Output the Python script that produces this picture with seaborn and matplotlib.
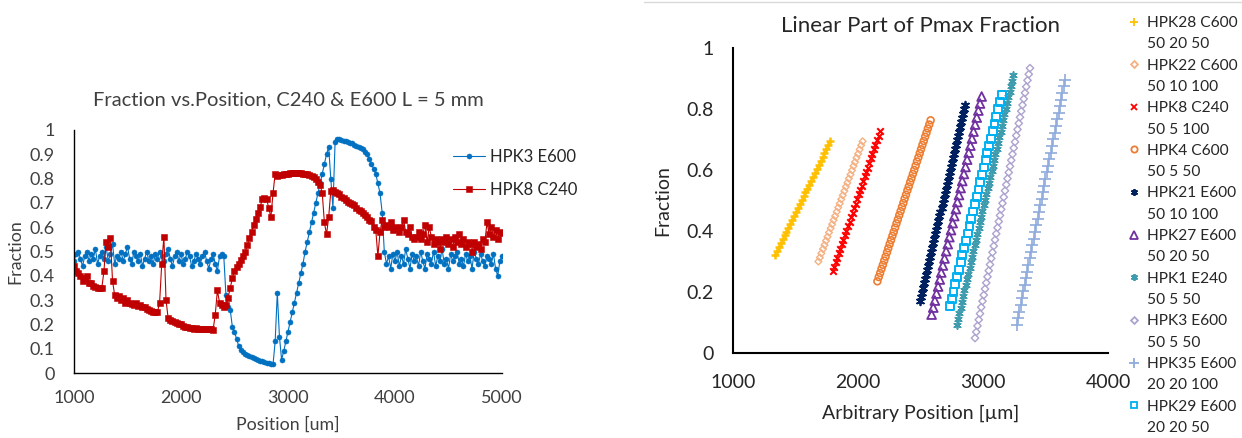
import numpy as np
import pandas as pd
import matplotlib.pyplot as plt
import seaborn as sns
from matplotlib.lines import Line2D
from matplotlib.ticker import MultipleLocator, FuncFormatter

# ---- left panel: fraction scan, one point every 20 um ----
positions = np.arange(1000, 5001, 20)

hpk3_e600 = [
    0.46, 0.49, 0.50, 0.47, 0.44, 0.48, 0.50, 0.46, 0.49, 0.47,   # 1000
    0.51, 0.45, 0.48, 0.50, 0.47, 0.52, 0.46, 0.49, 0.53, 0.45,   # 1200
    0.48, 0.47, 0.50, 0.46, 0.49, 0.52, 0.47, 0.45, 0.50, 0.48,   # 1400
    0.46, 0.49, 0.44, 0.47, 0.50, 0.46, 0.48, 0.45, 0.49, 0.47,   # 1600
    0.50, 0.48, 0.46, 0.49, 0.51, 0.47, 0.44, 0.48, 0.50, 0.46,   # 1800
    0.49, 0.45, 0.47, 0.50, 0.48, 0.44, 0.46, 0.49, 0.47, 0.45,   # 2000
    0.48, 0.50, 0.46, 0.43, 0.47, 0.49, 0.45, 0.42, 0.48, 0.49,   # 2200
    0.48, 0.32, 0.27, 0.26, 0.19, 0.17, 0.14, 0.11, 0.095, 0.085, # 2400
    0.08, 0.075, 0.07, 0.065, 0.06, 0.058, 0.055, 0.05, 0.048, 0.045,  # 2600
    0.042, 0.04, 0.037, 0.035, 0.13, 0.33, 0.15, 0.055, 0.09, 0.13,   # 2800
    0.17, 0.21, 0.25, 0.29, 0.33, 0.37, 0.41, 0.45, 0.50, 0.54,   # 3000
    0.58, 0.62, 0.66, 0.70, 0.74, 0.78, 0.82, 0.86, 0.90, 0.93,   # 3200
    0.80, 0.68, 0.95, 0.965, 0.965, 0.96, 0.955, 0.955, 0.95, 0.945,  # 3400
    0.945, 0.94, 0.935, 0.93, 0.925, 0.92, 0.91, 0.90, 0.88, 0.86,    # 3600
    0.84, 0.82, 0.78, 0.74, 0.66, 0.50, 0.45, 0.48, 0.43, 0.49,   # 3800
    0.46, 0.50, 0.44, 0.48, 0.45, 0.51, 0.47, 0.43, 0.49, 0.46,   # 4000
    0.48, 0.44, 0.50, 0.46, 0.43, 0.49, 0.47, 0.45, 0.50, 0.44,   # 4200
    0.48, 0.46, 0.51, 0.45, 0.47, 0.43, 0.49, 0.46, 0.48, 0.50,   # 4400
    0.45, 0.47, 0.44, 0.49, 0.46, 0.48, 0.43, 0.50, 0.47, 0.45,   # 4600
    0.49, 0.46, 0.44, 0.48, 0.47, 0.45, 0.49, 0.43, 0.40, 0.46,   # 4800
    0.48,                                                         # 5000
]

hpk8_c240 = [
    0.44, 0.42, 0.41, 0.40, 0.38, 0.39, 0.40, 0.37, 0.37, 0.36,   # 1000
    0.355, 0.35, 0.35, 0.35, 0.42, 0.54, 0.52, 0.555, 0.38, 0.32, # 1200
    0.31, 0.315, 0.30, 0.31, 0.29, 0.30, 0.29, 0.285, 0.28, 0.29, # 1400
    0.275, 0.28, 0.27, 0.27, 0.265, 0.26, 0.255, 0.25, 0.25, 0.25,  # 1600
    0.29, 0.45, 0.56, 0.30, 0.225, 0.22, 0.215, 0.21, 0.205, 0.20,  # 1800
    0.20, 0.195, 0.19, 0.19, 0.185, 0.185, 0.183, 0.185, 0.183, 0.182,  # 2000
    0.183, 0.182, 0.18, 0.182, 0.18, 0.178, 0.24, 0.34, 0.29, 0.28,     # 2200
    0.27, 0.28, 0.31, 0.35, 0.39, 0.42, 0.435, 0.45, 0.465, 0.48,  # 2400
    0.50, 0.525, 0.555, 0.58, 0.61, 0.635, 0.66, 0.685, 0.715, 0.72,  # 2600
    0.715, 0.68, 0.64, 0.74, 0.82, 0.81, 0.815, 0.815, 0.818, 0.82,   # 2800
    0.82, 0.822, 0.823, 0.822, 0.823, 0.823, 0.822, 0.82, 0.82, 0.818,  # 3000
    0.815, 0.81, 0.805, 0.80, 0.785, 0.775, 0.74, 0.62, 0.57, 0.64,     # 3200
    0.75, 0.755, 0.745, 0.74, 0.735, 0.725, 0.72, 0.71, 0.705, 0.70,    # 3400
    0.695, 0.69, 0.68, 0.67, 0.665, 0.66, 0.65, 0.64, 0.63, 0.625,      # 3600
    0.60, 0.59, 0.48, 0.58, 0.63, 0.60, 0.61, 0.60, 0.62, 0.59,   # 3800
    0.60, 0.595, 0.58, 0.60, 0.63, 0.58, 0.57, 0.60, 0.56, 0.55,  # 4000
    0.56, 0.58, 0.55, 0.57, 0.61, 0.54, 0.60, 0.56, 0.53, 0.55,   # 4200
    0.54, 0.51, 0.55, 0.54, 0.56, 0.53, 0.55, 0.52, 0.56, 0.54,   # 4400
    0.57, 0.53, 0.55, 0.52, 0.54, 0.53, 0.50, 0.54, 0.52, 0.53,   # 4600
    0.51, 0.55, 0.54, 0.62, 0.57, 0.60, 0.56, 0.59, 0.55, 0.58,   # 4800
    0.575,                                                        # 5000
]

# ---- right panel: linear part of each Pmax fraction curve ----
hpk28_x = [1336, 1350, 1366, 1381, 1396, 1412, 1427, 1442, 1458, 1472, 1488, 1503, 1518, 1533, 1549,
           1564, 1579, 1594, 1610, 1625, 1640, 1655, 1671, 1686, 1701, 1716, 1731, 1747, 1762, 1776]
hpk28_y = [0.322, 0.335, 0.349, 0.360, 0.373, 0.386, 0.398, 0.411, 0.424, 0.437, 0.450, 0.462, 0.475, 0.488, 0.501,
           0.514, 0.527, 0.539, 0.552, 0.565, 0.578, 0.591, 0.604, 0.616, 0.629, 0.642, 0.655, 0.668, 0.681, 0.694]

hpk22_x = [1683, 1695, 1707, 1720, 1732, 1744, 1756, 1768, 1781, 1793, 1805, 1817, 1830, 1842, 1854,
           1866, 1878, 1891, 1903, 1915, 1927, 1940, 1952, 1964, 1976, 1988, 2001, 2013, 2025, 2037]
hpk22_y = [0.300, 0.313, 0.327, 0.341, 0.354, 0.368, 0.381, 0.395, 0.409, 0.422, 0.436, 0.449, 0.463, 0.477, 0.490,
           0.504, 0.517, 0.531, 0.545, 0.558, 0.572, 0.585, 0.599, 0.613, 0.626, 0.640, 0.653, 0.667, 0.681, 0.694]

hpk8_x = [1797, 1809, 1822, 1834, 1846, 1858, 1870, 1883, 1895, 1907, 1919, 1932, 1944, 1956, 1968, 1980,
          1993, 2005, 2017, 2029, 2042, 2054, 2066, 2078, 2090, 2103, 2115, 2127, 2139, 2152, 2164, 2176]
hpk8_y = [0.268, 0.283, 0.298, 0.312, 0.327, 0.342, 0.357, 0.372, 0.386, 0.401, 0.416, 0.431, 0.446, 0.460, 0.475, 0.490,
          0.505, 0.520, 0.534, 0.549, 0.564, 0.579, 0.594, 0.608, 0.623, 0.638, 0.653, 0.668, 0.682, 0.697, 0.712, 0.727]

hpk4_x = [2155, 2166, 2177, 2188, 2199, 2210, 2221, 2232, 2242, 2253, 2264, 2275, 2286, 2297, 2308, 2319, 2330, 2341, 2352, 2363,
          2373, 2384, 2395, 2406, 2417, 2428, 2439, 2450, 2461, 2472, 2483, 2494, 2504, 2515, 2526, 2537, 2548, 2559, 2570, 2581]
hpk4_y = [0.235, 0.249, 0.262, 0.276, 0.289, 0.303, 0.316, 0.330, 0.343, 0.357, 0.370, 0.384, 0.397, 0.411, 0.425, 0.438, 0.452, 0.465, 0.479, 0.492,
          0.506, 0.519, 0.533, 0.546, 0.560, 0.573, 0.587, 0.600, 0.614, 0.628, 0.641, 0.655, 0.668, 0.682, 0.695, 0.709, 0.722, 0.736, 0.749, 0.763]

hpk21_x = [2496, 2504, 2512, 2521, 2529, 2537, 2545, 2553, 2561, 2570, 2578, 2586, 2594, 2602, 2610,
           2619, 2627, 2635, 2643, 2651, 2659, 2668, 2676, 2684, 2692, 2700, 2708, 2717, 2725, 2733,
           2741, 2749, 2758, 2766, 2774, 2782, 2790, 2798, 2807, 2815, 2823, 2831, 2839, 2848, 2856]
hpk21_y = [0.169, 0.184, 0.198, 0.213, 0.228, 0.242, 0.257, 0.272, 0.286, 0.301, 0.316, 0.330, 0.345, 0.360, 0.374,
           0.389, 0.404, 0.418, 0.433, 0.448, 0.462, 0.477, 0.492, 0.506, 0.521, 0.536, 0.550, 0.565, 0.580, 0.594,
           0.609, 0.624, 0.638, 0.653, 0.668, 0.682, 0.697, 0.712, 0.726, 0.741, 0.756, 0.770, 0.785, 0.800, 0.814]

hpk27_x = [2589, 2602, 2615, 2628, 2641, 2654, 2666, 2679, 2692, 2705, 2718, 2731, 2744, 2757, 2770, 2783,
           2795, 2808, 2821, 2834, 2847, 2860, 2873, 2886, 2899, 2912, 2924, 2937, 2950, 2963, 2976, 2989]
hpk27_y = [0.126, 0.149, 0.172, 0.195, 0.218, 0.241, 0.264, 0.287, 0.310, 0.334, 0.357, 0.380, 0.403, 0.426, 0.449, 0.472,
           0.495, 0.518, 0.541, 0.564, 0.587, 0.610, 0.634, 0.657, 0.680, 0.703, 0.726, 0.749, 0.772, 0.795, 0.818, 0.841]

hpk1_x = [2789, 2799, 2810, 2820, 2830, 2841, 2851, 2861, 2872, 2882, 2892, 2903, 2913, 2923, 2934,
          2944, 2954, 2965, 2975, 2985, 2995, 3006, 3016, 3026, 3037, 3047, 3057, 3068, 3078, 3088,
          3099, 3109, 3119, 3130, 3140, 3150, 3161, 3171, 3181, 3192, 3202, 3212, 3223, 3233, 3243]
hpk1_y = [0.093, 0.112, 0.130, 0.149, 0.167, 0.186, 0.205, 0.223, 0.242, 0.260, 0.279, 0.298, 0.316, 0.335, 0.354,
          0.372, 0.391, 0.409, 0.428, 0.447, 0.465, 0.484, 0.502, 0.521, 0.540, 0.558, 0.577, 0.596, 0.614, 0.633,
          0.651, 0.670, 0.689, 0.707, 0.726, 0.744, 0.763, 0.782, 0.800, 0.819, 0.838, 0.856, 0.875, 0.893, 0.912]

hpk3_x = [2936, 2946, 2956, 2966, 2976, 2986, 2996, 3006, 3016, 3026, 3036, 3046, 3056, 3066, 3076,
          3086, 3096, 3106, 3116, 3126, 3136, 3146, 3156, 3166, 3176, 3186, 3196, 3206, 3216, 3226,
          3236, 3246, 3256, 3266, 3276, 3286, 3296, 3306, 3316, 3326, 3336, 3346, 3356, 3366, 3376]
hpk3_y = [0.049, 0.069, 0.089, 0.109, 0.129, 0.150, 0.170, 0.190, 0.210, 0.230, 0.250, 0.270, 0.290, 0.310, 0.330,
          0.351, 0.371, 0.391, 0.411, 0.431, 0.451, 0.471, 0.491, 0.511, 0.532, 0.552, 0.572, 0.592, 0.612, 0.632,
          0.652, 0.672, 0.692, 0.713, 0.733, 0.753, 0.773, 0.793, 0.813, 0.833, 0.853, 0.873, 0.894, 0.914, 0.934]

hpk35_x = [3269, 3279, 3290, 3300, 3311, 3321, 3332, 3342, 3353, 3363, 3374, 3384, 3395, 3405, 3415, 3426, 3436, 3447, 3457,
           3468, 3478, 3489, 3499, 3510, 3520, 3531, 3541, 3551, 3562, 3572, 3583, 3593, 3604, 3614, 3625, 3635, 3646, 3656]
hpk35_y = [0.093, 0.115, 0.136, 0.158, 0.180, 0.202, 0.223, 0.245, 0.267, 0.288, 0.310, 0.332, 0.354, 0.375, 0.397, 0.419, 0.440, 0.462, 0.484,
           0.505, 0.527, 0.549, 0.571, 0.592, 0.614, 0.636, 0.657, 0.679, 0.701, 0.722, 0.744, 0.766, 0.788, 0.809, 0.831, 0.853, 0.874, 0.896]

hpk29_x = [2736, 2750, 2764, 2779, 2793, 2807, 2821, 2835, 2850, 2864, 2878, 2892, 2907, 2921, 2935,
           2950, 2964, 2978, 2992, 3006, 3021, 3035, 3049, 3063, 3078, 3092, 3106, 3120, 3135, 3149]
hpk29_y = [0.153, 0.177, 0.201, 0.225, 0.249, 0.273, 0.297, 0.321, 0.344, 0.368, 0.392, 0.416, 0.440, 0.464, 0.488,
           0.512, 0.536, 0.560, 0.584, 0.608, 0.632, 0.656, 0.679, 0.703, 0.727, 0.751, 0.775, 0.799, 0.823, 0.847]

sns.set_theme(style="white")
plt.rcParams['font.family'] = ['Lato', 'DejaVu Sans']

W, H = 1242, 438
fig = plt.figure(figsize=(W / 100, H / 100), dpi=100)
ax1 = fig.add_axes([74 / W, 1 - 373 / H, 428 / W, 243 / H])
ax2 = fig.add_axes([733 / W, 1 - 353 / H, 375 / W, 305 / H])

# ---------------- left chart ----------------
left = pd.DataFrame({"Position": positions, "HPK3 E600": hpk3_e600, "HPK8 C240": hpk8_c240})
sns.lineplot(data=left, x="Position", y="HPK3 E600", ax=ax1, color="#0070C0", linewidth=0.8,
             marker="o", markersize=3.6, markeredgecolor="#0070C0", markeredgewidth=0.4,
             label="HPK3 E600")
sns.lineplot(data=left, x="Position", y="HPK8 C240", ax=ax1, color="#C00000", linewidth=0.8,
             marker="s", markersize=3.8, markeredgecolor="#C00000", markeredgewidth=0.4,
             label="HPK8 C240")

dark = "#404040"
ax1.set_xlim(1000, 5000)
ax1.set_ylim(0, 1)
ax1.xaxis.set_major_locator(MultipleLocator(1000))
ax1.yaxis.set_major_locator(MultipleLocator(0.1))
ax1.yaxis.set_major_formatter(FuncFormatter(lambda v, p: f"{v:.1f}".rstrip("0").rstrip(".") if v else "0"))
ax1.set_title("Fraction vs.Position, C240 & E600 L = 5 mm", fontsize=14.5, color=dark, pad=18)
ax1.set_xlabel("Position [um]", fontsize=12.8, color=dark, labelpad=8)
ax1.set_ylabel("Fraction", fontsize=12.8, color=dark, labelpad=4)
ax1.legend(loc="upper left", bbox_to_anchor=(453 / W, 1 - 149 / H), bbox_transform=fig.transFigure,
           frameon=False, fontsize=12, handlelength=1.9, handletextpad=0.3, labelspacing=1.0,
           borderaxespad=0, borderpad=0)

# ---------------- right chart ----------------
series = [
    ("HPK28 C600", "50 20 50", hpk28_x, hpk28_y, "#FFC000", "+", 34, 1.8, True, 6),
    ("HPK22 C600", "50 10 100", hpk22_x, hpk22_y, "#F4B183", "D", 12, 1.0, False, 3.5),
    ("HPK8 C240", "50 5 100", hpk8_x, hpk8_y, "#FF0000", "x", 22, 1.5, True, 4.5),
    ("HPK4 C600", "50 5 50", hpk4_x, hpk4_y, "#ED7D31", "o", 24, 1.2, False, 4.5),
    ("HPK21 E600", "50 10 100", hpk21_x, hpk21_y, "#002060", (6, 2, 0), 30, 1.3, True, 5),
    ("HPK27 E600", "50 20 50", hpk27_x, hpk27_y, "#7030A0", "^", 40, 1.3, False, 5.5),
    ("HPK1 E240", "50 5 50", hpk1_x, hpk1_y, "#3E9CAE", (6, 2, 0), 26, 1.2, True, 5),
    ("HPK3 E600", "50 5 50", hpk3_x, hpk3_y, "#ADA3CF", "D", 14, 1.0, False, 3.5),
    ("HPK35 E600", "20 20 100", hpk35_x, hpk35_y, "#8FAADC", "+", 75, 1.2, True, 7),
    ("HPK29 E600", "20 20 50", hpk29_x, hpk29_y, "#00B0F0", "s", 32, 1.4, False, 4.5),
]

handles, labels = [], []
for name, cond, xs, ys, col, mk, size, lw, solid, legsize in series:
    if solid:
        sns.scatterplot(x=xs, y=ys, ax=ax2, marker=mk, s=size, color=col, linewidth=lw)
    else:
        sns.scatterplot(x=xs, y=ys, ax=ax2, marker=mk, s=size, color=col,
                        facecolor="none", edgecolor=col, linewidth=lw)
    handles.append(Line2D([], [], linestyle="none", marker=mk, markersize=legsize,
                          color=col, markerfacecolor=col if solid else "none",
                          markeredgecolor=col, markeredgewidth=1.3))
    labels.append(name)
    handles.append(Line2D([], [], linestyle="none"))
    labels.append(cond)

ink = "#262626"
ax2.set_xlim(1000, 4000)
ax2.set_ylim(0, 1)
ax2.xaxis.set_major_locator(MultipleLocator(1000))
ax2.xaxis.set_minor_locator(MultipleLocator(500))
ax2.yaxis.set_major_locator(MultipleLocator(0.2))
ax2.yaxis.set_major_formatter(FuncFormatter(lambda v, p: f"{v:.1f}".rstrip("0").rstrip(".") if v else "0"))
ax2.set_title("Linear Part of Pmax Fraction", fontsize=16, color=ink, pad=11.5)
ax2.set_xlabel("Arbitrary Position [µm]", fontsize=14, color=ink, labelpad=10)
ax2.set_ylabel("Fraction", fontsize=14, color=ink, labelpad=11)
ax2.legend(handles, labels, loc="upper left", bbox_to_anchor=(1128 / W, 1 - 16 / H),
           bbox_transform=fig.transFigure, frameon=False, fontsize=11.2, handlelength=0.8,
           handletextpad=0.45, labelspacing=0.47, borderaxespad=0, borderpad=0)

for ax, lw, tl, fs, col, xpad, ypad in [(ax1, 1.0, 4, 13, dark, 12, 14), (ax2, 1.5, 6, 14, ink, 15, 14)]:
    sns.despine(ax=ax)
    for side in ("left", "bottom"):
        ax.spines[side].set_color("black")
        ax.spines[side].set_linewidth(lw)
    ax.tick_params(axis="both", which="both", direction="in", length=tl, width=lw, color="black",
                   labelsize=fs, labelcolor=col)
    ax.tick_params(axis="x", which="both", pad=xpad)
    ax.tick_params(axis="y", which="both", pad=ypad)
    ax.grid(False)

# faint frame line of the right picture
fig.add_artist(Line2D([644 / W, 1], [1 - 2 / H, 1 - 2 / H], transform=fig.transFigure,
                      color="#D9D9D9", linewidth=1))

fig.savefig("out.png", dpi=100)
